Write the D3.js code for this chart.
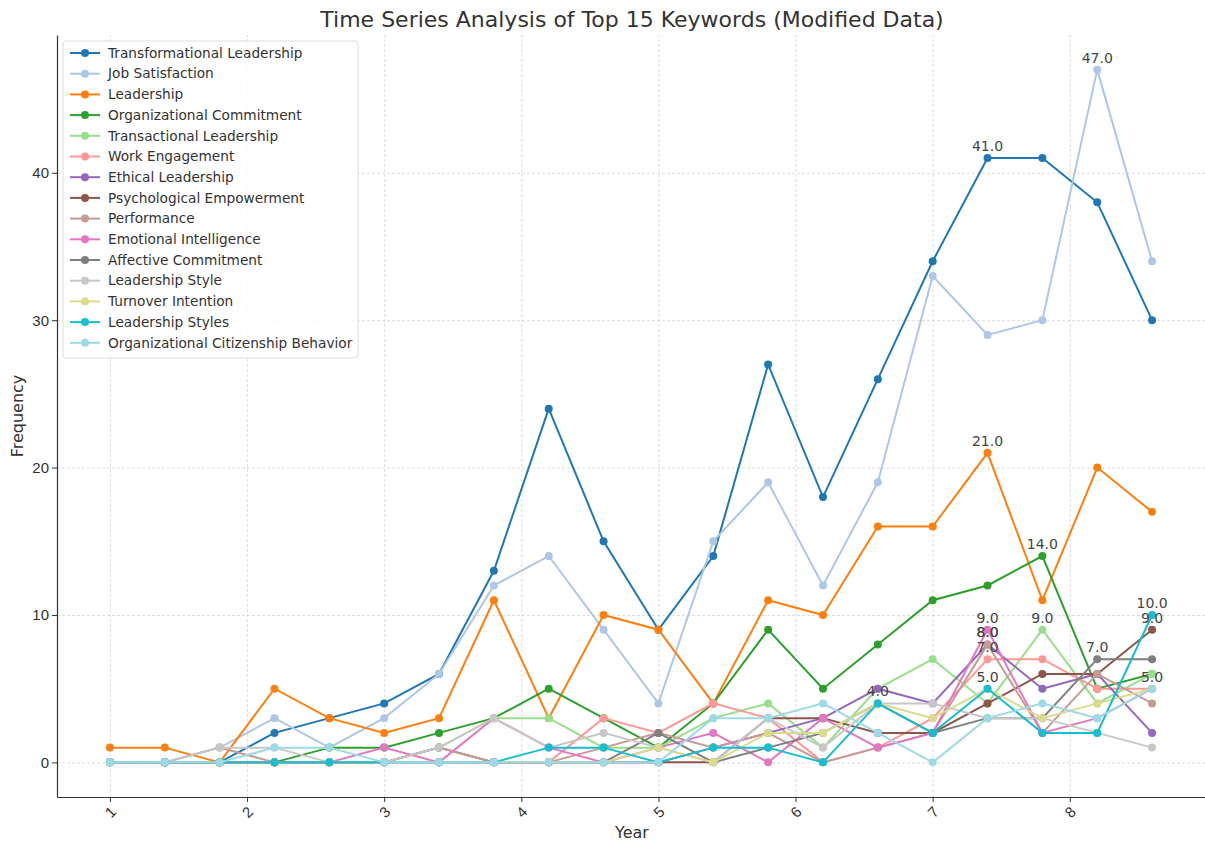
<!DOCTYPE html>
<html>
<head>
<meta charset="utf-8">
<script src="https://cdn.jsdelivr.net/npm/d3@7"></script>
<style>
  body { margin: 0; background: #fff; }
  svg { font-family: "DejaVu Sans", sans-serif; }
  .grid line { stroke: #b0b0b0; stroke-opacity: 0.55; stroke-dasharray: 3,2; stroke-width: 0.8; }
  .grid path { display: none; }
  .axis text { font-size: 15px; fill: #333; }
  .axis line, .axis path { stroke: #333; }
</style>
</head>
<body>
<div id="chart"></div>
<script>
// x positions of the 20 observations
const years = [1, 1.4, 1.8, 2.2, 2.6, 3, 3.4, 3.8, 4.2, 4.6, 5, 5.4, 5.8, 6.2, 6.6, 7, 7.4, 7.8, 8.2, 8.6];
const xTicks = [1, 2, 3, 4, 5, 6, 7, 8];
const yTicks = [0, 10, 20, 30, 40];

const keywords = [
  'Transformational Leadership', 'Job Satisfaction', 'Leadership', 'Organizational Commitment',
  'Transactional Leadership', 'Work Engagement', 'Ethical Leadership', 'Psychological Empowerment',
  'Performance', 'Emotional Intelligence', 'Affective Commitment', 'Leadership Style',
  'Turnover Intention', 'Leadership Styles', 'Organizational Citizenship Behavior'
];

const colors = ['#1f77b4', '#aec7e8', '#ff7f0e', '#2ca02c', '#98df8a', '#ff9896', '#9467bd', '#8c564b',
  '#c49c94', '#e377c2', '#7f7f7f', '#c7c7c7', '#dbdb8d', '#17becf', '#9edae5'];

const transformational = [0, 0, 0, 2, 3, 4, 6, 13, 24, 15, 9, 14, 27, 18, 26, 34, 41, 41, 38, 30];
const jobSatisfaction  = [0, 0, 1, 3, 1, 3, 6, 12, 14, 9, 4, 15, 19, 12, 19, 33, 29, 30, 47, 34];
const leadership       = [1, 1, 0, 5, 3, 2, 3, 11, 3, 10, 9, 4, 11, 10, 16, 16, 21, 11, 20, 17];
const orgCommitment    = [0, 0, 0, 0, 1, 1, 2, 3, 5, 3, 1, 4, 9, 5, 8, 11, 12, 14, 5, 6];
const transactional    = [0, 0, 0, 0, 0, 0, 1, 3, 3, 1, 1, 3, 4, 1, 5, 7, 4, 9, 4, 6];
const workEngagement   = [0, 0, 0, 0, 0, 0, 0, 0, 0, 3, 2, 4, 3, 0, 1, 3, 7, 7, 5, 5];
const ethical          = [0, 0, 0, 0, 0, 0, 0, 0, 0, 0, 0, 1, 2, 3, 5, 4, 8, 5, 6, 2];
const psychEmpower     = [0, 0, 0, 0, 0, 0, 1, 0, 0, 0, 0, 0, 3, 3, 2, 2, 4, 6, 6, 9];
const performance      = [0, 0, 1, 0, 0, 0, 1, 0, 0, 1, 2, 1, 2, 0, 1, 2, 8, 2, 6, 4];
const emotionalIntel   = [0, 0, 0, 0, 0, 1, 0, 3, 1, 0, 1, 2, 0, 3, 1, 2, 9, 2, 3, 5];
const affective        = [0, 0, 0, 0, 0, 0, 0, 0, 0, 0, 2, 0, 1, 2, 4, 2, 3, 3, 7, 7];
const leadershipStyle  = [0, 0, 1, 1, 0, 0, 1, 3, 1, 2, 1, 0, 3, 1, 4, 4, 3, 3, 2, 1];
const turnover         = [0, 0, 0, 0, 0, 0, 0, 0, 0, 0, 1, 0, 2, 2, 4, 3, 5, 3, 4, 5];
const leadershipStyles = [0, 0, 0, 0, 0, 0, 0, 0, 1, 1, 0, 1, 1, 0, 4, 2, 5, 2, 2, 10];
const orgCitizenship   = [0, 0, 0, 1, 1, 0, 0, 0, 0, 0, 0, 3, 3, 4, 2, 0, 3, 4, 3, 5];

const seriesValues = [transformational, jobSatisfaction, leadership, orgCommitment, transactional,
  workEngagement, ethical, psychEmpower, performance, emotionalIntel, affective, leadershipStyle,
  turnover, leadershipStyles, orgCitizenship];

const width = 1205, height = 843;
const margin = { top: 35, right: 0, bottom: 46, left: 57 };

const svg = d3.select('#chart').append('svg')
  .attr('width', width)
  .attr('height', height);

const x = d3.scaleLinear().domain([0.614, 8.986]).range([margin.left, width - margin.right]);
const y = d3.scaleLinear().domain([-2.35, 49.35]).range([height - margin.bottom, margin.top]);

// grid lines
svg.append('g')
  .attr('class', 'grid')
  .attr('transform', `translate(0,${height - margin.bottom})`)
  .call(d3.axisBottom(x).tickValues(xTicks).tickSize(-(height - margin.top - margin.bottom)).tickFormat(''));
svg.append('g')
  .attr('class', 'grid')
  .attr('transform', `translate(${margin.left},0)`)
  .call(d3.axisLeft(y).tickValues(yTicks).tickSize(-(width - margin.left - margin.right)).tickFormat(''));

// axes
const xAxis = svg.append('g')
  .attr('class', 'axis')
  .attr('transform', `translate(0,${height - margin.bottom})`)
  .call(d3.axisBottom(x).tickValues(xTicks).tickSize(5).tickSizeOuter(0).tickFormat(d3.format('d')));
xAxis.selectAll('text')
  .attr('y', 0)
  .attr('dy', '0.35em')
  .attr('text-anchor', 'middle')
  .attr('transform', 'translate(0,15) rotate(-45)');
xAxis.select('.domain').attr('stroke-width', 1.2);

const yAxis = svg.append('g')
  .attr('class', 'axis')
  .attr('transform', `translate(${margin.left},0)`)
  .call(d3.axisLeft(y).tickValues(yTicks).tickSize(5).tickSizeOuter(0));
yAxis.select('.domain').attr('stroke-width', 1.2);

// axis labels and title
svg.append('text')
  .attr('x', 632).attr('y', 838)
  .attr('text-anchor', 'middle')
  .style('font-size', '16px').style('fill', '#333')
  .text('Year');
svg.append('text')
  .attr('transform', `translate(23,${(margin.top + height - margin.bottom) / 2}) rotate(-90)`)
  .attr('text-anchor', 'middle')
  .style('font-size', '16px').style('fill', '#333')
  .text('Frequency');
svg.append('text')
  .attr('x', 632).attr('y', 27)
  .attr('text-anchor', 'middle')
  .style('font-size', '22px').style('fill', '#333')
  .text('Time Series Analysis of Top 15 Keywords (Modified Data)');

// lines and markers
const line = d3.line()
  .x((d, i) => x(years[i]))
  .y(d => y(d));

const plot = svg.append('g');
seriesValues.forEach((vals, k) => {
  const g = plot.append('g');
  g.append('path')
    .datum(vals)
    .attr('fill', 'none')
    .attr('stroke', colors[k])
    .attr('stroke-width', 2)
    .attr('d', line);
  g.selectAll('circle')
    .data(vals)
    .join('circle')
    .attr('cx', (d, i) => x(years[i]))
    .attr('cy', d => y(d))
    .attr('r', 4)
    .attr('fill', colors[k]);
});

// annotate max of each series
seriesValues.forEach((vals) => {
  const maxVal = d3.max(vals);
  const idx = vals.indexOf(maxVal);
  svg.append('text')
    .attr('x', x(years[idx]))
    .attr('y', y(maxVal) - 7)
    .attr('text-anchor', 'middle')
    .style('font-size', '14px')
    .style('fill', '#444')
    .text(maxVal.toFixed(1));
});

// legend
const legend = svg.append('g').attr('transform', 'translate(63,41)');
legend.append('rect')
  .attr('width', 295).attr('height', 317)
  .attr('rx', 3)
  .attr('fill', '#fff').attr('fill-opacity', 0.85)
  .attr('stroke', '#ddd');
keywords.forEach((name, k) => {
  const row = legend.append('g').attr('transform', `translate(0,${12 + k * 20.7})`);
  row.append('line')
    .attr('x1', 7).attr('x2', 37)
    .attr('stroke', colors[k]).attr('stroke-width', 2);
  row.append('circle')
    .attr('cx', 22).attr('r', 4).attr('fill', colors[k]);
  row.append('text')
    .attr('x', 45).attr('dy', '0.35em')
    .style('font-size', '13.7px').style('fill', '#333')
    .text(name);
});
</script>
</body>
</html>
